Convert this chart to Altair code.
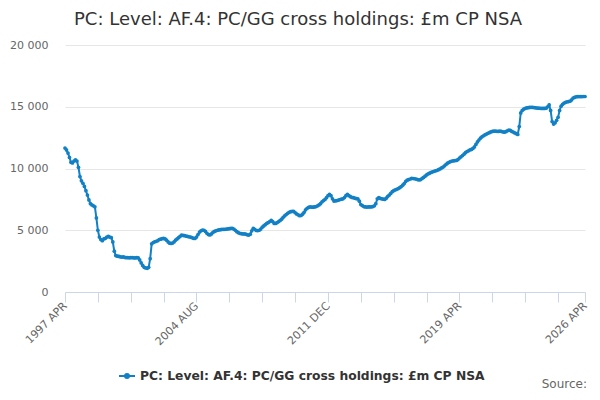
import altair as alt
import pandas as pd

title = "PC: Level: AF.4: PC/GG cross holdings: £m CP NSA"
series_name = "PC: Level: AF.4: PC/GG cross holdings: £m CP NSA"
line_color = "#1280c4"

# monthly values, one row per year starting in April (1997 APR ... 2026 APR)
values = [
    11650, 11500, 11250, 10900, 10500, 10450, 10600, 10700, 10600, 10100, 9350, 9000,   # 1997
    8800, 8550, 8200, 7850, 7450, 7150, 7050, 6980, 6900, 6000, 5000, 4450,            # 1998
    4250, 4150, 4300, 4350, 4450, 4500, 4450, 4400, 4050, 3300, 2950, 2900,            # 1999
    2880, 2850, 2830, 2840, 2800, 2780, 2790, 2770, 2780, 2790, 2770, 2760,            # 2000
    2780, 2770, 2600, 2350, 2150, 2000, 1950, 1920, 2000, 2700, 3900, 4000,            # 2001
    4060, 4100, 4150, 4250, 4280, 4320, 4340, 4300, 4200, 4050, 3950, 3930,            # 2002
    3960, 4050, 4200, 4300, 4400, 4500, 4600, 4580, 4560, 4530, 4500, 4470,            # 2003
    4450, 4400, 4350, 4340, 4450, 4650, 4850, 4950, 5020, 5000, 4900, 4750,            # 2004
    4650, 4620, 4700, 4820, 4900, 4950, 5000, 5030, 5050, 5070, 5080, 5080,            # 2005
    5100, 5110, 5130, 5150, 5160, 5100, 5000, 4880, 4800, 4750, 4720, 4700,            # 2006
    4700, 4680, 4630, 4610, 4680, 4950, 5160, 5080, 4980, 4970, 5000, 5100,            # 2007
    5250, 5350, 5450, 5550, 5620, 5700, 5790, 5700, 5550, 5550, 5620, 5700,            # 2008
    5790, 5900, 6050, 6170, 6270, 6370, 6450, 6500, 6520, 6530, 6420, 6320,            # 2009
    6250, 6180, 6200, 6300, 6450, 6650, 6780, 6850, 6890, 6880, 6870, 6890,            # 2010
    6920, 6980, 7050, 7150, 7300, 7400, 7500, 7640, 7800, 7900, 7800, 7550,            # 2011
    7360, 7380, 7400, 7440, 7480, 7520, 7550, 7650, 7800, 7910, 7800, 7720,            # 2012
    7660, 7640, 7600, 7560, 7550, 7350, 7080, 7000, 6920, 6890, 6880, 6890,            # 2013
    6890, 6900, 6920, 6980, 7150, 7550, 7640, 7580, 7550, 7520, 7500, 7600,            # 2014
    7750, 7850, 7980, 8120, 8200, 8260, 8320, 8380, 8450, 8540, 8650, 8780,            # 2015
    8950, 9050, 9100, 9150, 9200, 9190, 9170, 9140, 9100, 9070, 9100, 9200,            # 2016
    9280, 9380, 9480, 9560, 9620, 9680, 9730, 9770, 9810, 9850, 9900, 9960,            # 2017
    10050, 10120, 10220, 10330, 10430, 10500, 10560, 10600, 10620, 10640, 10650, 10720,  # 2018
    10850, 10950, 11050, 11160, 11280, 11370, 11430, 11500, 11540, 11620, 11750, 11950,  # 2019
    12150, 12300, 12450, 12570, 12650, 12720, 12790, 12850, 12900, 12960, 13000, 13020,  # 2020
    13020, 13010, 13000, 13020, 13000, 12970, 12940, 12980, 13050, 13100, 13080, 13000,  # 2021
    12950, 12880, 12820, 12760, 13400, 14500, 14700, 14800, 14870, 14900, 14920, 14940,  # 2022
    14950, 14940, 14930, 14910, 14890, 14880, 14870, 14860, 14860, 14860, 14880, 15000,  # 2023
    15150, 14700, 13800, 13600, 13700, 13900, 14150, 14700, 15050, 15200, 15300, 15360,  # 2024
    15400, 15420, 15450, 15550, 15700, 15750, 15800, 15820, 15820, 15820, 15820, 15830,  # 2025
    15830,                                                                              # 2026
]

month_names = ['JAN', 'FEB', 'MAR', 'APR', 'MAY', 'JUN',
               'JUL', 'AUG', 'SEP', 'OCT', 'NOV', 'DEC']
start_year = 1997
start_month = 4

tick_steps = list(range(0, 331, 22)) + [348]
labelled_ticks = [0, 88, 176, 264, 348]
y_ticks = [0, 5000, 10000, 15000, 20000]

def month_label(i):
    k = start_month - 1 + i
    return "{} {}".format(start_year + k // 12, month_names[k % 12])

df = pd.DataFrame({
    'idx': range(len(values)),
    'value': values,
})
df['period'] = [month_label(i) for i in df['idx']]
df['series'] = series_name

# nested ternary for the few labelled ticks
label_expr = "''"
for t in reversed(labelled_ticks):
    label_expr = "datum.value == {} ? '{}' : ({})".format(t, month_label(t), label_expr)

font = "DejaVu Sans"

line = alt.Chart(df).mark_line(
    strokeWidth=2,
    point=alt.OverlayMarkDef(filled=True, size=14),
).encode(
    x=alt.X('idx:Q',
            scale=alt.Scale(domain=[0, 348], nice=False, zero=False),
            axis=alt.Axis(values=tick_steps, labelExpr=label_expr, title=None,
                          grid=False, domainColor='#ccd6eb', tickColor='#ccd6eb',
                          tickSize=10, labelAngle=315, labelAlign='right',
                          labelBaseline='middle', labelPadding=2,
                          labelColor='#666666', labelFontSize=11, labelFont=font,
                          labelOverlap=False, labelFlush=False)),
    y=alt.Y('value:Q',
            scale=alt.Scale(domain=[0, 20000], nice=False),
            axis=alt.Axis(values=y_ticks, title=None, domain=False, ticks=False,
                          gridColor='#e6e6e6', labelPadding=17,
                          labelExpr="replace(format(datum.value, ','), ',', ' ')",
                          labelColor='#666666', labelFontSize=11, labelFont=font)),
    color=alt.Color('series:N', scale=alt.Scale(range=[line_color]),
                    legend=alt.Legend(title=None, orient='none', legendX=53, legendY=322,
                                      symbolType="M-1,0H1M-0.25,0a0.25,0.25 0 1,0 0.5,0a0.25,0.25 0 1,0 -0.5,0",
                                      symbolSize=256, symbolStrokeWidth=2,
                                      symbolFillColor=line_color, symbolStrokeColor=line_color,
                                      labelFont=font, labelFontSize=12.3, labelFontWeight='bold',
                                      labelColor='#333333', labelLimit=500)),
    tooltip=['period:N', 'value:Q'],
)

source = alt.Chart(pd.DataFrame({'t': ['Source:']})).mark_text(
    align='right', baseline='alphabetic', font=font, fontSize=12, color='#666666'
).encode(
    text='t:N', x=alt.value(522), y=alt.value(343)
)

heading = alt.Chart(pd.DataFrame({'t': [title]})).mark_text(
    align='center', baseline='alphabetic', font=font, fontSize=18, color='#333333'
).encode(
    text='t:N', x=alt.value(233), y=alt.value(-20)
)

# whole canvas is 584 x 384 so it fits the 600 x 400 window with the page margin
chart = alt.layer(line, source, heading).properties(
    width=520,
    height=247,
    autosize=alt.AutoSizeParams(type='none'),
    padding={'left': 57, 'top': 37, 'right': 7, 'bottom': 100},
).configure_view(stroke=None)

chart.save("out.html", embed_options={"renderer": "svg", "actions": False})
